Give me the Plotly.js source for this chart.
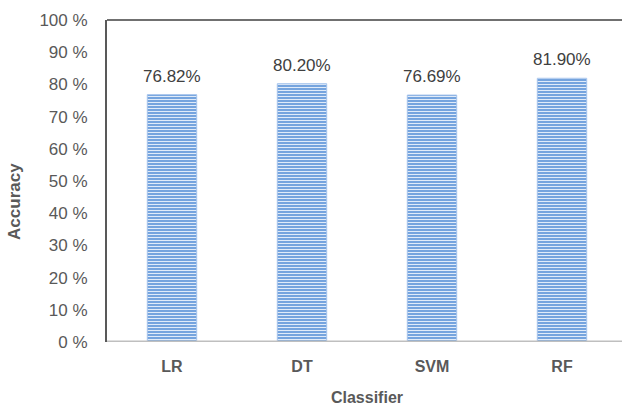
<!DOCTYPE html>
<html>
<head>
<meta charset="utf-8">
<script src="https://cdn.plot.ly/plotly-3.0.1.min.js"></script>
<style>
  html, body { margin: 0; padding: 0; overflow: hidden; background: #fff; }
  #chart { width: 627px; height: 407px; }
</style>
</head>
<body>
<div id="chart"></div>
<script>
// Classifier accuracy (%)
const classifiers = ['LR', 'DT', 'SVM', 'RF'];
const accuracy = [76.82, 80.20, 76.69, 81.90];
const yTicks = [0, 10, 20, 30, 40, 50, 60, 70, 80, 90, 100];

const textFont = 'Liberation Sans, Arial, sans-serif';

const trace = {
  type: 'bar',
  x: classifiers,
  y: accuracy,
  width: 0.38,
  marker: {
    color: '#7aa8e0',
    line: { color: '#a6c4ec', width: 1 },
    pattern: {
      shape: '-',
      size: 3,
      solidity: 0.35,
      fgcolor: '#e0ebf9',
      bgcolor: '#75a4de',
      fillmode: 'replace'
    }
  },
  hoverinfo: 'skip'
};

// value labels above each bar
const labels = classifiers.map((c, i) => ({
  x: c,
  y: accuracy[i],
  xref: 'x',
  yref: 'y',
  text: accuracy[i].toFixed(2) + '%',
  showarrow: false,
  yanchor: 'bottom',
  yshift: 7,
  font: { family: textFont, size: 17, color: '#404040' }
}));

// vertical y-axis title, set slightly below the plot's mid-height
labels.push({
  xref: 'paper',
  yref: 'paper',
  x: 0,
  y: 0.435,
  xanchor: 'center',
  yanchor: 'middle',
  xshift: -92,
  textangle: -90,
  text: 'Accuracy',
  showarrow: false,
  font: { family: textFont, size: 17, color: '#595959', weight: 'bold' }
});

const layout = {
  width: 627,
  height: 407,
  margin: { l: 107, r: 0, t: 20, b: 65 },
  paper_bgcolor: '#ffffff',
  plot_bgcolor: '#ffffff',
  showlegend: false,
  xaxis: {
    type: 'category',
    range: [-0.5, 3.5],
    showgrid: false,
    showline: false,
    zeroline: false,
    ticks: '',
    ticklabelstandoff: 13,
    tickfont: { family: textFont, size: 16, color: '#595959', weight: 'bold' },
    title: {
      text: 'Classifier',
      standoff: 17,
      font: { family: textFont, size: 16, color: '#595959', weight: 'bold' }
    }
  },
  yaxis: {
    range: [0, 100],
    tickvals: yTicks,
    ticktext: yTicks.map(v => v + ' %'),
    showgrid: false,
    zeroline: false,
    showline: true,
    linecolor: '#595959',
    linewidth: 2,
    ticks: '',
    ticklabelstandoff: 14,
    tickfont: { family: textFont, size: 17, color: '#595959' }
  },
  annotations: labels,
  shapes: [
    // top border of the plot area
    { type: 'line', xref: 'paper', yref: 'paper', x0: 0, x1: 1, y0: 1, y1: 1,
      line: { color: '#404040', width: 1.5 } },
    // baseline
    { type: 'line', xref: 'paper', yref: 'y', x0: 0, x1: 1, y0: 0, y1: 0,
      line: { color: '#bfbfbf', width: 3 } }
  ]
};

Plotly.newPlot('chart', [trace], layout, { displayModeBar: false, staticPlot: true });
</script>
</body>
</html>
